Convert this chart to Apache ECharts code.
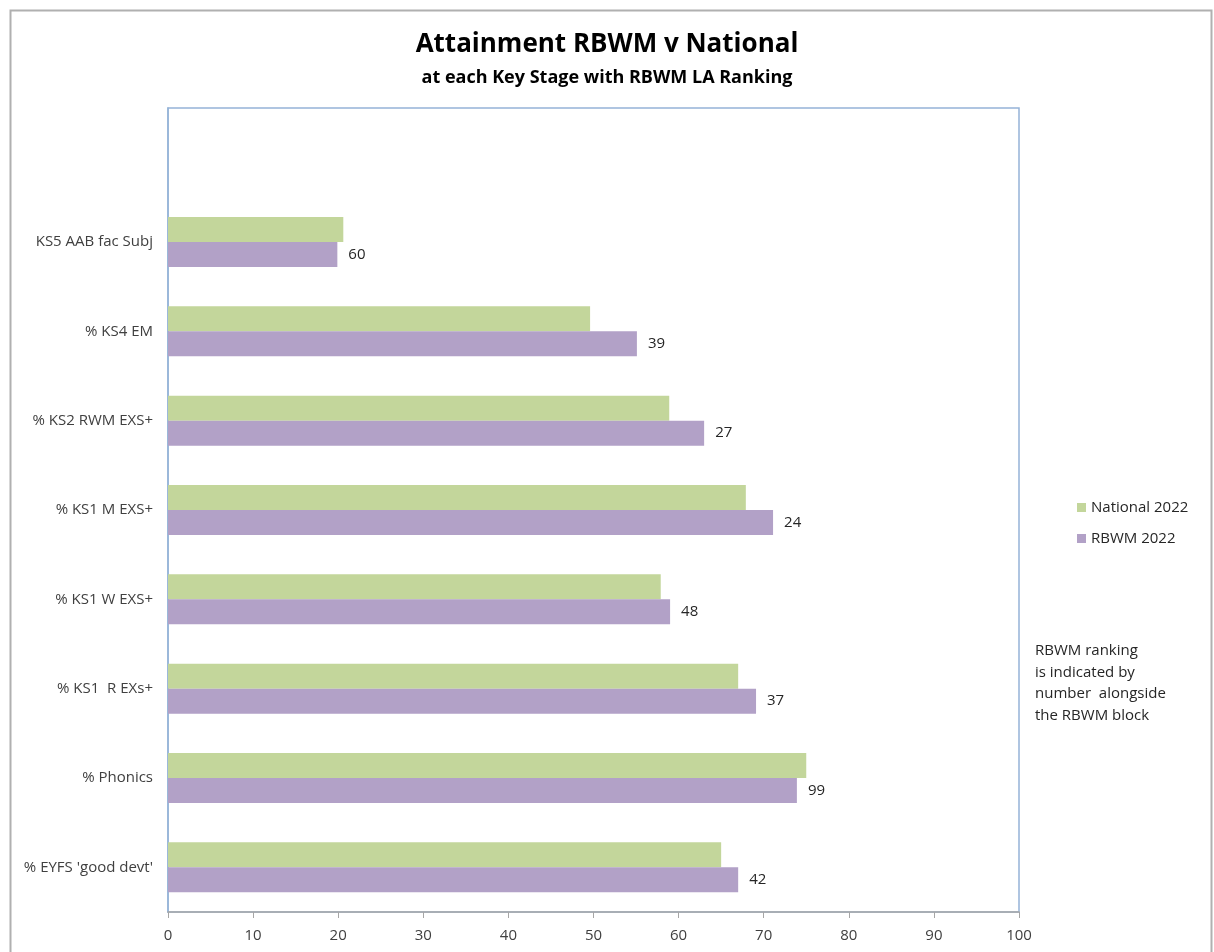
<!DOCTYPE html>
<html>
<head>
<meta charset="utf-8">
<script src="https://cdn.jsdelivr.net/npm/echarts@6/dist/echarts.min.js"></script>
<style>
  html, body { margin: 0; padding: 0; background: #fff; }
  #chart { width: 1214px; height: 952px; }
</style>
</head>
<body>
<div id="chart"></div>
<script>
  // categories bottom to top, top slot left empty like the original
  var categories = ["% EYFS 'good devt'", '% Phonics', '% KS1  R EXs+', '% KS1 W EXS+',
    '% KS1 M EXS+', '% KS2 RWM EXS+', '% KS4 EM', 'KS5 AAB fac Subj', ''];
  var national2022 = [65.0, 75.0, 67.0, 57.9, 67.9, 58.9, 49.6, 20.6, null];
  var rbwm2022 = [67.0, 73.9, 69.1, 59.0, 71.1, 63.0, 55.1, 19.9, null];
  var rbwmRank = [42, 99, 37, 48, 24, 27, 39, 60, null];
  var xTicks = [0, 10, 20, 30, 40, 50, 60, 70, 80, 90, 100];

  var font = 'Open Sans';
  var chart = echarts.init(document.getElementById('chart'));

  chart.setOption({
    backgroundColor: '#fff',
    animation: false,
    title: [{
      text: 'Attainment RBWM v National',
      left: 'center',
      top: 27,
      textStyle: { fontFamily: font, fontSize: 26, fontWeight: 'bold', color: '#000' }
    }, {
      text: 'at each Key Stage with RBWM LA Ranking',
      left: 'center',
      top: 64,
      textStyle: { fontFamily: font, fontSize: 18, fontWeight: 'bold', color: '#000' }
    }],
    legend: {
      orient: 'vertical',
      left: 1072,
      top: 495,
      itemWidth: 9,
      itemHeight: 9,
      itemGap: 16,
      icon: 'rect',
      data: ['National 2022', 'RBWM 2022'],
      textStyle: { fontFamily: font, fontSize: 15, color: '#262626' }
    },
    graphic: [{
      type: 'rect',
      left: 8,
      top: 8,
      shape: { width: 1201, height: 960 },
      style: { fill: 'none', stroke: '#b0b0b0', lineWidth: 2 },
      silent: true
    }, {
      type: 'text',
      left: 1035,
      top: 640,
      style: {
        text: 'RBWM ranking\nis indicated by\nnumber  alongside\nthe RBWM block',
        fontFamily: font,
        fontSize: 15,
        lineHeight: 21.5,
        fill: '#262626'
      }
    }],
    grid: {
      left: 168,
      right: 195,
      top: 108,
      bottom: 40,
      show: true,
      borderColor: '#95b3d7',
      borderWidth: 1.5
    },
    xAxis: {
      type: 'value',
      min: xTicks[0],
      max: xTicks[xTicks.length - 1],
      interval: 10,
      axisLine: { show: true, lineStyle: { color: '#a6a6a6', width: 1.5 } },
      axisTick: { show: true, length: 6, lineStyle: { color: '#a6a6a6' } },
      splitLine: { show: false },
      axisLabel: { fontFamily: font, fontSize: 15, color: '#404040', margin: 16 }
    },
    yAxis: {
      type: 'category',
      data: categories,
      axisLine: { show: true, lineStyle: { color: '#95b3d7', width: 1.5 } },
      axisTick: { show: false },
      axisLabel: { fontFamily: font, fontSize: 15, color: '#404040', margin: 15 }
    },
    series: [{
      name: 'National 2022',
      type: 'bar',
      data: national2022,
      barGap: '0%',
      barCategoryGap: '44%',
      itemStyle: { color: '#c3d69b' }
    }, {
      name: 'RBWM 2022',
      type: 'bar',
      data: rbwm2022,
      barGap: '0%',
      barCategoryGap: '44%',
      itemStyle: { color: '#b2a1c7' },
      label: {
        show: true,
        position: 'right',
        distance: 11,
        fontFamily: font,
        fontSize: 15,
        color: '#262626',
        formatter: function (p) { return rbwmRank[p.dataIndex]; }
      }
    }]
  });
</script>
</body>
</html>
